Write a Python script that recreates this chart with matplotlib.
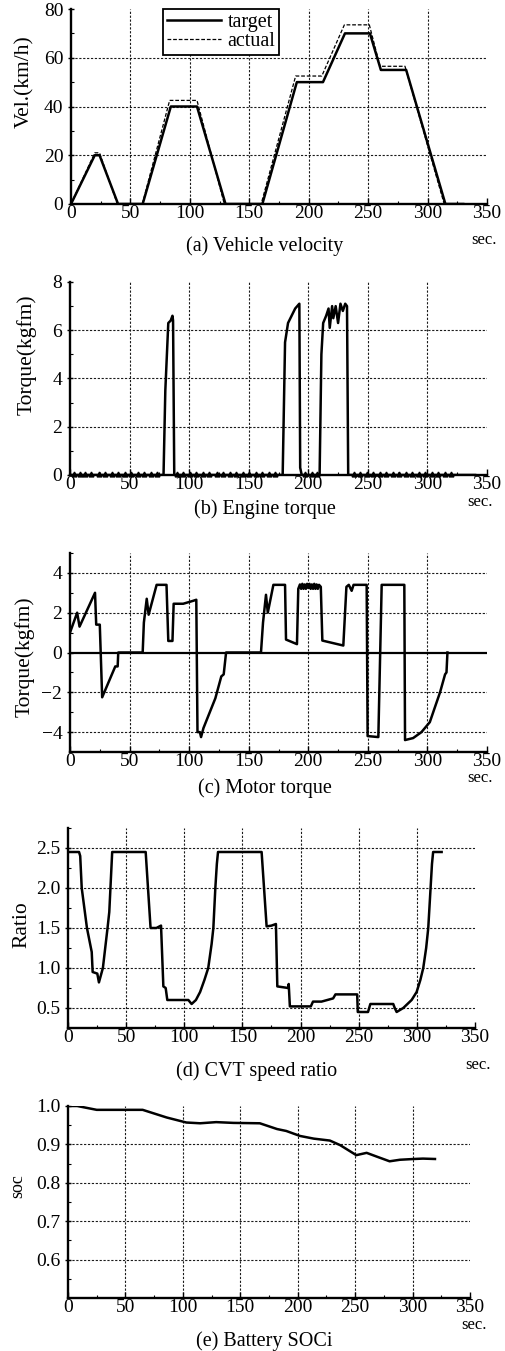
import matplotlib
matplotlib.use("Agg")
import matplotlib.pyplot as plt
from matplotlib.ticker import MultipleLocator, FormatStrFormatter

plt.rcParams['font.family'] = ['Liberation Serif', 'DejaVu Serif']
plt.rcParams['font.size'] = 14

# ---------------- data ----------------
# (a) vehicle velocity
tgt_t = [0, 20, 24, 39.6, 60.3, 84, 106, 130, 161, 190, 212, 230.5, 251.5, 260.7, 282, 315, 330]
tgt_v = [0, 20, 20, 0, 0, 40, 40, 0, 0, 50, 50, 70, 70, 55, 55, 0, 0]
act_t = [0, 20, 24, 39, 60, 83, 106, 129, 160, 189, 211, 230, 251, 260, 281, 314, 330]
act_v = [0, 21, 21, 0, 0, 42.5, 42.5, 0, 0, 52.5, 52.5, 73.5, 73.5, 56.5, 56.5, 0, 0]

# (b) engine torque
eng_t = [0, 78.5, 80, 82.5, 84.5, 86, 86.5, 87.5, 178.5, 180.5, 183, 186, 189, 192.5, 193.2,
         194.5, 209.5, 211, 212.5, 215, 217, 218, 220, 221, 223, 225, 227, 229, 231, 232.5,
         233.5, 340]
eng_v = [0, 0, 3.5, 6.3, 6.4, 6.6, 6.4, 0, 0, 5.5, 6.3, 6.6, 6.9, 7.1, 0.3,
         0, 0, 5.0, 6.3, 6.6, 6.9, 6.1, 7.0, 6.5, 7.0, 6.3, 7.1, 6.8, 7.1, 7.0,
         0, 0]
ripple_t = [3, 8, 13, 18, 24, 29, 35, 40, 46, 51, 57, 62, 68, 73, 90, 95, 101, 106, 112, 117,
            123, 128, 134, 139, 145, 150, 156, 161, 167, 172, 197, 203, 207, 238, 243, 249,
            254, 260, 265, 271, 276, 282, 287, 293, 298, 304, 309, 315, 320]

# (c) motor torque
mot_t = [0, 6, 8, 21, 22, 25, 27, 38, 40, 40.5,
         61, 62, 64.4, 66, 72.7, 81, 82.5, 86, 87, 95, 103.5, 106, 107, 109, 110, 112,
         122, 127, 129, 131,
         160.3, 162, 164.5, 166, 170.7, 180.5, 181.3, 190.5,
         191.6, 193, 194, 195, 196, 197, 198, 199, 200, 201, 202, 203, 204, 205, 206, 207,
         208, 209, 210.5, 211.8, 229.4, 232, 234, 236.4, 238, 249, 249.8, 258.8, 261.6,
         280.6, 281.2, 288, 295, 302, 306, 310.6, 314.8, 316, 316.8]
mot_v = [1.0, 2.0, 1.3, 3.0, 1.4, 1.4, -2.25, -0.7, -0.7, 0,
         0, 1.5, 2.7, 1.9, 3.4, 3.4, 0.58, 0.58, 2.45, 2.45, 2.6, 2.65, -4.0, -4.0, -4.25, -3.8,
         -2.3, -1.2, -1.1, 0,
         0, 1.5, 2.9, 2.0, 3.4, 3.4, 0.65, 0.42,
         3.2, 3.42, 3.2, 3.45, 3.2, 3.42, 3.2, 3.45, 3.25, 3.45, 3.2, 3.42, 3.2, 3.45, 3.2, 3.42,
         3.2, 3.4, 3.3, 0.6, 0.35, 3.3, 3.4, 3.1, 3.4, 3.4, -4.2, -4.25, 3.4,
         3.4, -4.4, -4.3, -4.0, -3.5, -2.8, -2.0, -1.1, -1.0, 0]

# (d) CVT speed ratio
cvt_t = [0, 9.5, 10.5, 11.8, 16.3, 20.4, 21.2, 25.2, 26.6, 30, 34, 35.5, 38,
         66.8, 71, 76, 80, 82, 84, 85.4, 103.5, 106.3, 110, 113.6, 117.3, 120.6, 123.5, 125,
         126.7, 128, 129, 166.5, 170.8, 175, 178.8, 180, 189.3, 189.8, 190.8, 208.8, 210.7,
         218, 228, 230, 248.7, 249.2, 258, 260, 279.7, 281, 282.6, 288.3, 295.5, 299.8, 303,
         305.5, 308, 309.8, 311.8, 313, 314, 321.3]
cvt_v = [2.45, 2.45, 2.4, 2.0, 1.5, 1.2, 0.95, 0.93, 0.82, 1.0, 1.5, 1.7, 2.45,
         2.45, 1.5, 1.5, 1.53, 0.77, 0.75, 0.6, 0.6, 0.55, 0.6, 0.7, 0.85, 1.0, 1.3, 1.5,
         2.0, 2.3, 2.45, 2.45, 1.52, 1.53, 1.55, 0.77, 0.75, 0.8, 0.52, 0.52, 0.58,
         0.58, 0.62, 0.67, 0.67, 0.45, 0.45, 0.55, 0.55, 0.5, 0.45, 0.5, 0.6, 0.7, 0.85,
         1.0, 1.25, 1.5, 2.0, 2.3, 2.45, 2.45]

# (e) battery SOC
soc_t = [0, 8, 25, 45, 65, 86, 103, 115, 129, 144, 167, 182, 190, 202, 214, 228, 237, 251,
         260, 269, 280, 289, 301, 309, 319.5]
soc_v = [1.0, 1.0, 0.99, 0.99, 0.99, 0.97, 0.957, 0.955, 0.958, 0.956, 0.955, 0.94, 0.935,
         0.922, 0.915, 0.91, 0.898, 0.872, 0.878, 0.868, 0.856, 0.86, 0.862, 0.863, 0.862]

captions = ["(a) Vehicle velocity", "(b) Engine torque", "(c) Motor torque",
            "(d) CVT speed ratio", "(e) Battery SOCi"]
ylabels = ["Vel.(km/h)", "Torque(kgfm)", "Torque(kgfm)", "Ratio", "soc"]

# ---------------- layout ----------------
W, H = 506, 1351
fig = plt.figure(figsize=(W / 100, H / 100), dpi=100)


def px_axes(l, r, t, b):
    return fig.add_axes([l / W, 1 - b / H, (r - l) / W, (b - t) / H])


GRID_LS = (0, (2.0, 1.5))
TICK_FS = 14


def style(ax, ylim, ymaj, ymin, ygrid, yfmt=None):
    ax.set_xlim(0, 350)
    ax.set_ylim(*ylim)
    for s in ("top", "right"):
        ax.spines[s].set_visible(False)
    for s in ("left", "bottom"):
        ax.spines[s].set_linewidth(1.7)
    ax.xaxis.set_major_locator(MultipleLocator(50))
    ax.xaxis.set_minor_locator(MultipleLocator(25))
    ax.yaxis.set_major_locator(MultipleLocator(ymaj))
    ax.yaxis.set_minor_locator(MultipleLocator(ymin))
    ax.tick_params(axis="x", which="major", direction="in", length=4, width=1.0, pad=1,
                   labelsize=TICK_FS)
    ax.tick_params(axis="x", which="minor", direction="in", length=2.5, width=0.8)
    ax.tick_params(axis="y", which="major", direction="inout", length=5, width=1.0, pad=3,
                   labelsize=TICK_FS)
    ax.tick_params(axis="y", which="minor", direction="in", length=2.5, width=0.8)
    if yfmt:
        ax.yaxis.set_major_formatter(yfmt)
    for gx in [50, 100, 150, 200, 250, 300]:
        ax.axvline(gx, color="0.1", lw=0.8, ls=GRID_LS, zorder=1)
    for gy in ygrid:
        ax.axhline(gy, color="0.1", lw=0.8, ls=GRID_LS, zorder=1)


def ftext(x, y, s, **kw):
    fig.text(x / W, 1 - y / H, s, **kw)


LW = 1.8

# (a)
ax = px_axes(71, 487, 9, 204)
style(ax, (0, 80), 20, 10, [20, 40, 60])
ax.plot(tgt_t, tgt_v, color="black", lw=LW, label="target", zorder=3)
ax.plot(act_t, act_v, color="black", lw=0.9, ls=(0, (3, 1.5)), label="actual", zorder=3)
leg = ax.legend(loc="upper left", bbox_to_anchor=(0.221, 1.0), borderaxespad=0,
                fancybox=False, framealpha=1, edgecolor="black", fontsize=14.5,
                handlelength=2.7, handletextpad=0.3, labelspacing=0.0, borderpad=0.2)
leg.get_frame().set_linewidth(1.3)

# (b)
ax = px_axes(70, 487, 282, 475)
style(ax, (0, 8), 2, 1, [2, 4, 6])
ax.plot(eng_t, eng_v, color="black", lw=LW, zorder=3)
ax.plot(ripple_t, [0.06] * len(ripple_t), ls="none", marker="^", ms=3.5, color="black",
        zorder=3, clip_on=False)

# (c)
ax = px_axes(70, 487, 553, 752)
style(ax, (-5, 5), 2, 1, [-4, -2, 2, 4])
ax.axhline(0, color="black", lw=1.6, zorder=2)
ax.plot(mot_t, mot_v, color="black", lw=LW, zorder=3)

# (d)
ax = px_axes(68, 475, 828, 1028)
style(ax, (0.25, 2.75), 0.5, 0.25, [0.5, 1.0, 1.5, 2.0, 2.5],
      yfmt=FormatStrFormatter("%.1f"))
ax.plot(cvt_t, cvt_v, color="black", lw=LW, zorder=3)

# (e)
ax = px_axes(68, 470, 1106, 1298)
style(ax, (0.5, 1.0), 0.1, 0.05, [0.6, 0.7, 0.8, 0.9],
      yfmt=FormatStrFormatter("%.1f"))
ax.set_yticks([0.6, 0.7, 0.8, 0.9, 1.0])
ax.plot(soc_t, soc_v, color="black", lw=LW, zorder=3)

# captions, units, y labels
cap_pos = [(265, 246), (265, 509), (265, 788), (257, 1071), (264, 1341)]
sec_pos = [(484, 240), (480, 502), (480, 778), (478, 1065), (474, 1325)]
ylab_pos = [(25, 82), (27, 355), (25, 657), (22, 925), (18, 1186)]
ylab_fs = [15.5, 15.5, 15.5, 15.5, 13]
for c, (cx, cy) in zip(captions, cap_pos):
    ftext(cx, cy, c, ha="center", va="center", fontsize=14.5)
for sx, sy in sec_pos:
    ftext(sx, sy, "sec.", ha="center", va="center", fontsize=12)
for lab, (lx, ly), fs in zip(ylabels, ylab_pos, ylab_fs):
    ftext(lx, ly, lab, ha="center", va="center", rotation=90, fontsize=fs)

fig.savefig("out.png", dpi=100)
